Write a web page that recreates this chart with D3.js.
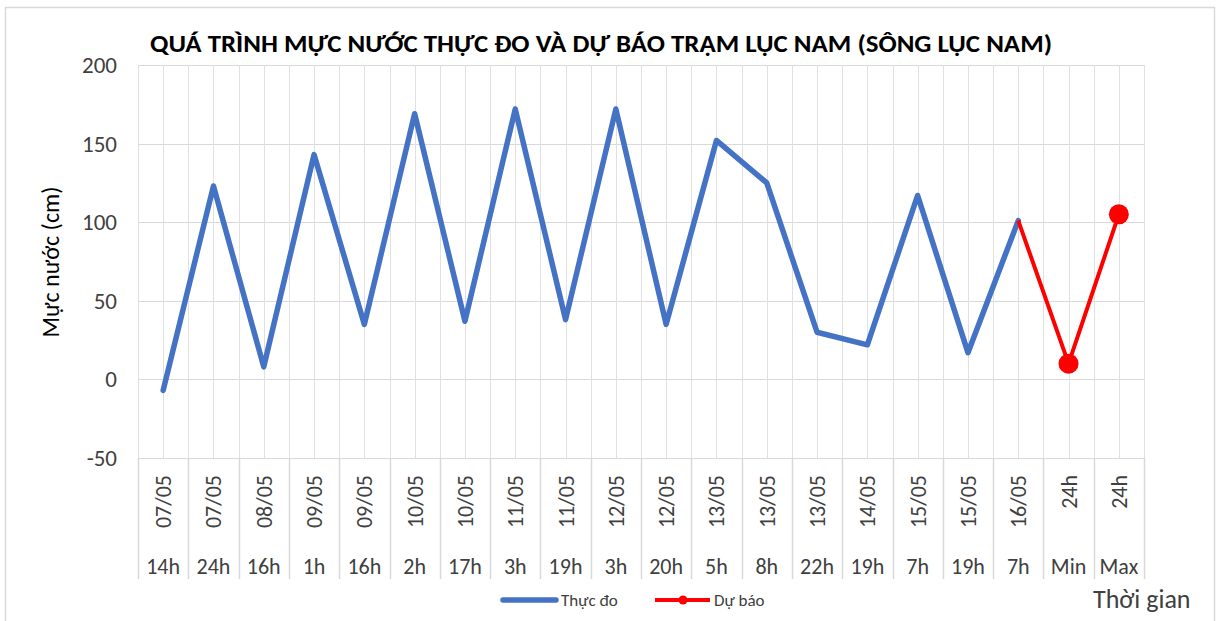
<!DOCTYPE html>
<html>
<head>
<meta charset="utf-8">
<script src="https://cdn.jsdelivr.net/npm/d3@7"></script>
<style>
  body { margin: 0; background: #fff; }
  svg text { font-family: Carlito, Lato, "Liberation Sans", sans-serif; fill: #404040; }
</style>
</head>
<body>
<svg id="chart" width="1217" height="621"></svg>
<script>
// dữ liệu
const dates = ['07/05','07/05','08/05','09/05','09/05','10/05','10/05','11/05','11/05','12/05',
               '12/05','13/05','13/05','13/05','14/05','15/05','15/05','16/05','24h','24h'];
const times = ['14h','24h','16h','1h','16h','2h','17h','3h','19h','3h',
               '20h','5h','8h','22h','19h','7h','19h','7h','Min','Max'];
const observed = [-7,123,8,143,35,169,37,172,38,172,35,152,125,30,22,117,17,101];
const forecast = [null,null,null,null,null,null,null,null,null,null,
                  null,null,null,null,null,null,null,101,10,105];
const yTicks = [-50,0,50,100,150,200];

const svg = d3.select("#chart");
const plotL = 138, plotR = 1144, plotT = 65, plotB = 458;
const grid = "#d9d9d9";

// khung ngoài
svg.append("rect")
    .attr("x", 5.5).attr("y", 7.5)
    .attr("width", 1209).attr("height", 630)
    .attr("fill", "none").attr("stroke", grid).attr("stroke-width", 1.5);

const idx = d3.range(dates.length);
const x = d3.scaleBand().domain(idx).range([plotL, plotR]).padding(0);
const y = d3.scaleLinear().domain([-50, 200]).range([plotB, plotT]);
const cx = i => x(i) + x.bandwidth() / 2;

// lưới ngang
svg.append("g").selectAll("line")
    .data(yTicks)
    .join("line")
    .attr("x1", plotL).attr("x2", plotR)
    .attr("y1", d => Math.round(y(d)) + 0.5).attr("y2", d => Math.round(y(d)) + 0.5)
    .attr("stroke", grid).attr("stroke-width", 1.2);

// lưới dọc (ranh giới và giữa mỗi nhóm)
const vlines = [];
idx.forEach(i => { vlines.push(x(i)); vlines.push(cx(i)); });
vlines.push(plotR);
svg.append("g").selectAll("line")
    .data(vlines)
    .join("line")
    .attr("x1", d => Math.round(d) + 0.5).attr("x2", d => Math.round(d) + 0.5)
    .attr("y1", plotT).attr("y2", plotB)
    .attr("stroke", "#e0e0e0").attr("stroke-width", 1);

// vạch phân cách trục danh mục
const seps = idx.map(i => x(i)).concat([plotR]);
svg.append("g").selectAll("line")
    .data(seps)
    .join("line")
    .attr("x1", d => Math.round(d) + 0.5).attr("x2", d => Math.round(d) + 0.5)
    .attr("y1", plotB).attr("y2", 579)
    .attr("stroke", grid).attr("stroke-width", 1.5);

// nhãn trục y
svg.append("g").selectAll("text")
    .data(yTicks)
    .join("text")
    .attr("x", 117).attr("y", d => y(d) + 8)
    .attr("text-anchor", "end")
    .style("font-size", "23px")
    .text(d => d);

svg.append("text")
    .attr("transform", "translate(59,262) rotate(-90)")
    .attr("text-anchor", "middle")
    .style("font-size", "24px")
    .style("fill", "#000")
    .text("Mực nước (cm)");

// nhãn ngày (xoay)
svg.append("g").selectAll("text")
    .data(idx)
    .join("text")
    .attr("transform", i => `translate(${cx(i) + 8},475) rotate(-90)`)
    .attr("text-anchor", "end")
    .style("font-size", "22px")
    .text(i => dates[i]);

// nhãn giờ
svg.append("g").selectAll("text")
    .data(idx)
    .join("text")
    .attr("x", i => cx(i)).attr("y", 574)
    .attr("text-anchor", "middle")
    .style("font-size", "22px")
    .text(i => times[i]);

// đường thực đo
const line = d3.line()
    .defined(d => d != null)
    .x((d, i) => cx(i))
    .y(d => y(d));

svg.append("path")
    .datum(observed)
    .attr("d", line)
    .attr("fill", "none")
    .attr("stroke", "#4472C4")
    .attr("stroke-width", 5.5)
    .attr("stroke-linejoin", "round")
    .attr("stroke-linecap", "round");

// đường dự báo
svg.append("path")
    .datum(forecast)
    .attr("d", line)
    .attr("fill", "none")
    .attr("stroke", "#FF0000")
    .attr("stroke-width", 4)
    .attr("stroke-linejoin", "round");

svg.append("g").selectAll("circle")
    .data(idx.filter(i => forecast[i] != null && i >= observed.length))
    .join("circle")
    .attr("cx", i => cx(i)).attr("cy", i => y(forecast[i]))
    .attr("r", 10)
    .attr("fill", "#FF0000");

// tiêu đề
svg.append("text")
    .attr("x", 601).attr("y", 52)
    .attr("text-anchor", "middle")
    .attr("textLength", 902)
    .attr("lengthAdjust", "spacingAndGlyphs")
    .style("font-size", "24px")
    .style("font-weight", "bold")
    .style("fill", "#000")
    .text("QUÁ TRÌNH MỰC NƯỚC THỰC ĐO VÀ DỰ BÁO TRẠM LỤC NAM (SÔNG LỤC NAM)");

// chú giải
const legend = svg.append("g");
legend.append("line")
    .attr("x1", 503).attr("x2", 556).attr("y1", 600).attr("y2", 600)
    .attr("stroke", "#4472C4").attr("stroke-width", 5.5).attr("stroke-linecap", "round");
legend.append("text")
    .attr("x", 561).attr("y", 606)
    .style("font-size", "17px")
    .text("Thực đo");
legend.append("line")
    .attr("x1", 655).attr("x2", 710).attr("y1", 600).attr("y2", 600)
    .attr("stroke", "#FF0000").attr("stroke-width", 4);
legend.append("circle")
    .attr("cx", 683).attr("cy", 600).attr("r", 4.5).attr("fill", "#FF0000");
legend.append("text")
    .attr("x", 714).attr("y", 606)
    .style("font-size", "17px")
    .text("Dự báo");

svg.append("text")
    .attr("x", 1093).attr("y", 608)
    .style("font-size", "26px")
    .text("Thời gian");
</script>
</body>
</html>
